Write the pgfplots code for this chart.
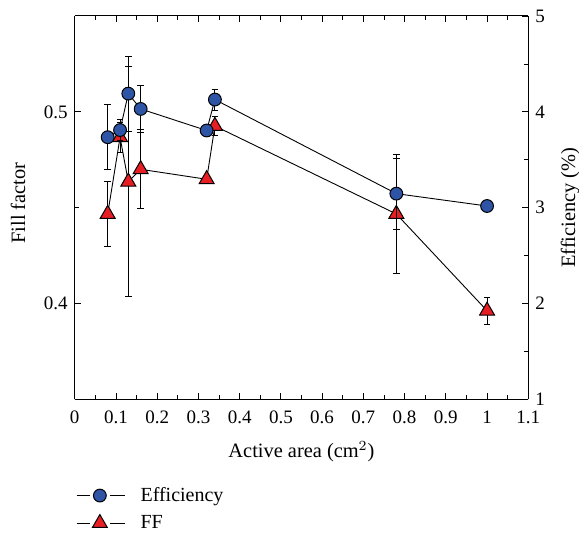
\documentclass[border=0pt]{standalone}
\usepackage{fontspec}
\setmainfont{Liberation Serif}
\usepackage{pgfplots}
\usepackage{pgfplotstable}
\pgfplotsset{compat=1.18}
\definecolor{effblue}{RGB}{46,84,165}
\definecolor{ffred}{RGB}{232,30,37}

% active area (cm^2), value, error
\pgfplotstableread{
x y err
0.08 3.735 0.34
0.11 3.81 0.107
0.13 4.19 0.39
0.16 4.03 0.25
0.32 3.805 0.0
0.34 4.128 0.11
0.78 3.146 0.37
1.00 3.017 0.03
}\efftable

\pgfplotstableread{
x y err
0.08 0.4467 0.017
0.11 0.4867 0.008
0.13 0.4635 0.060
0.16 0.4700 0.0206
0.32 0.4648 0.0
0.34 0.4926 0.005
0.78 0.4467 0.031
1.00 0.3962 0.007
}\fftable

\pgfplotsset{
  common/.style={
    width=226.8pt, height=191.65pt, scale only axis,
    xmin=0, xmax=1.1,
    major tick length=3pt, minor tick length=2pt,
    every tick/.style={black, line width=0.4pt},
    axis line style={line width=0.5pt},
    tick label style={font=\fontsize{9.5}{11}\selectfont},
    label style={font=\fontsize{10.2}{12}\selectfont},
    /pgf/number format/assume math mode=true,
    error bars/error bar style={black, line width=0.45pt},
    error bars/error mark options={rotate=90, mark size=1.6pt, black, line width=0.45pt},
  },
}

\begin{document}
\begin{tikzpicture}
\useasboundingbox (-37.35pt,-66.85pt) rectangle (252.15pt,199.65pt);
\begin{axis}[
  common,
  ymin=0.35, ymax=0.55,
  axis y line*=left,
  xtick={0,0.1,0.2,0.3,0.4,0.5,0.6,0.7,0.8,0.9,1,1.1},
  xticklabels={0,0.1,0.2,0.3,0.4,0.5,0.6,0.7,0.8,0.9,1,1.1},
  xticklabel style={yshift=-2.5pt},
  minor x tick num=1,
  ytick={0.4,0.5}, yticklabels={0.4,0.5},
  minor ytick={0.45},
  xlabel={Active area (cm$^{2}$)},
  ylabel={Fill factor},
  xlabel style={at={(axis description cs:0.5,-0.137)}, anchor=center},
  ylabel style={at={(axis description cs:-0.125,0.512)}, anchor=center},
]
\addplot[black, line width=0.45pt, mark=triangle*, mark size=4.3pt,
  mark options={fill=ffred, draw=black, line width=0.5pt},
  error bars/.cd, y dir=both, y explicit]
  table[x=x, y=y, y error=err] {\fftable};
\end{axis}

\begin{axis}[
  common,
  ymin=1, ymax=5,
  axis y line*=right, axis x line=none,
  ytick={1,2,3,4,5}, minor y tick num=1,
  ylabel={Efficiency (\%)},
  ylabel style={at={(axis description cs:1.092,0.5)}, anchor=center},
  legend style={at={(axis description cs:-0.011,-0.207)}, anchor=north west,
    draw=none, fill=none, font=\fontsize{10}{12}\selectfont, row sep=1.5pt},
  legend cell align=left,
  legend image code/.code={%
    \draw (0pt,0pt) -- (6.8pt,0pt) (16.6pt,0pt) -- (24pt,0pt);
    \draw[only marks] plot coordinates {(11.65pt,0pt)};
    \path[draw=none, fill=none] (0pt,0pt) rectangle (30pt,0.1pt);},
]
\addplot[black, line width=0.45pt, mark=*, mark size=3.2pt,
  mark options={fill=effblue, draw=black, line width=0.5pt},
  error bars/.cd, y dir=both, y explicit]
  table[x=x, y=y, y error=err] {\efftable};
\addlegendentry{Efficiency}
\addlegendimage{black, line width=0.45pt, mark=triangle*, mark size=4.3pt,
  mark options={fill=ffred, draw=black, line width=0.5pt}}
\addlegendentry{FF}
\end{axis}
\end{tikzpicture}
\end{document}
